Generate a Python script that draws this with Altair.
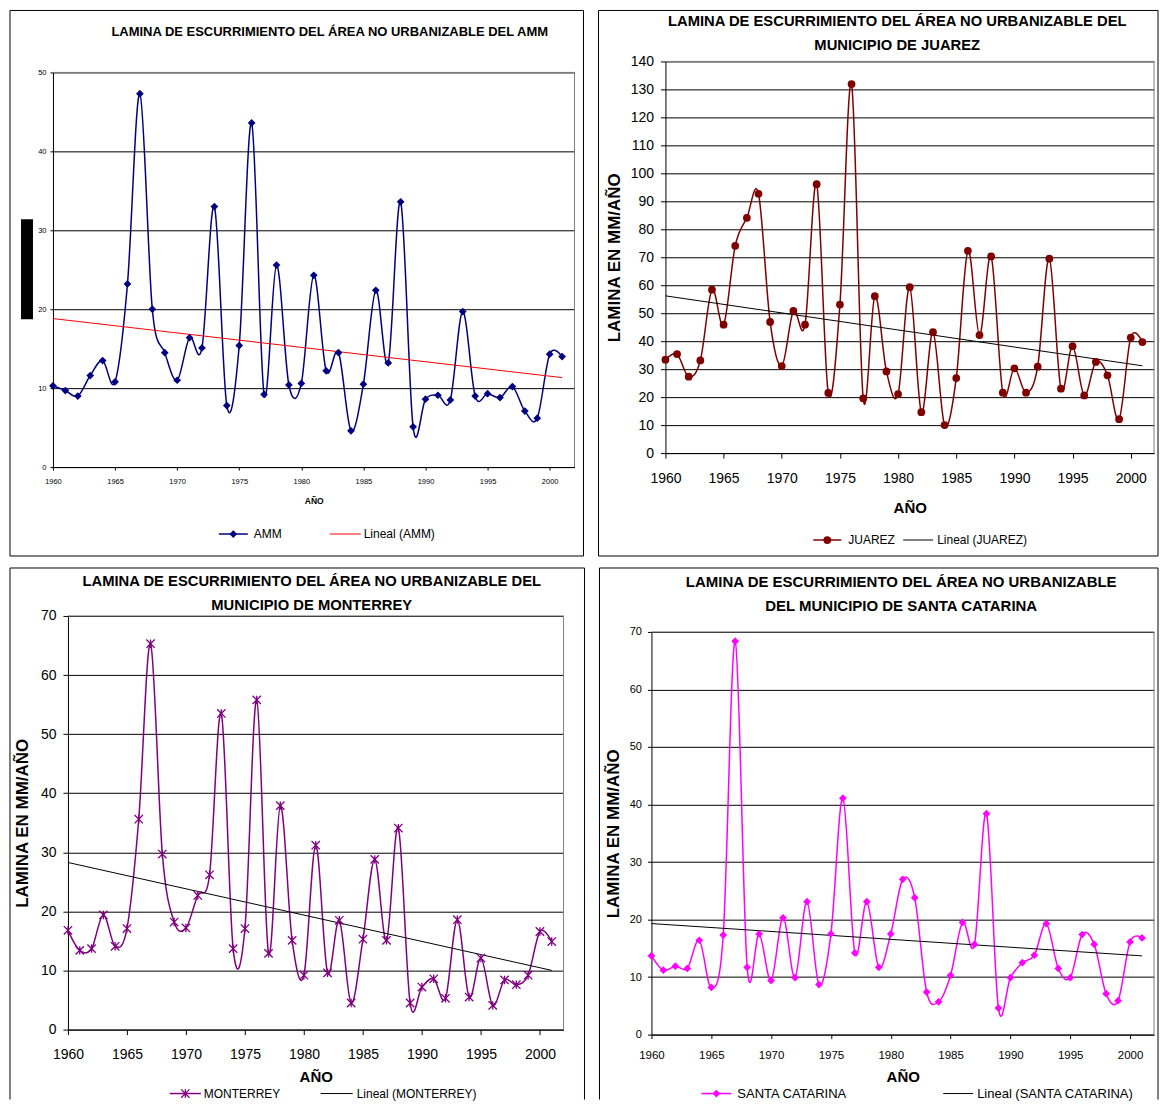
import altair as alt
import pandas as pd

years = list(range(1960, 2002))
year_ticks = [1960, 1965, 1970, 1975, 1980, 1985, 1990, 1995, 2000]

amm = [10.3, 9.7, 9.0, 11.6, 13.5, 10.8, 23.2, 47.3, 20.0, 14.5,
       11.0, 16.4, 15.1, 33.0, 7.8, 15.4, 43.6, 9.2, 25.6, 10.4,
       10.6, 24.3, 12.2, 14.5, 4.6, 10.5, 22.4, 13.2, 33.6, 5.1,
       8.6, 9.1, 8.5, 19.7, 9.0, 9.3, 8.8, 10.2, 7.1, 6.2,
       14.3, 14.0]
juarez = [33.4, 35.4, 27.3, 33.1, 58.4, 45.9, 74.1, 84.1, 92.7, 46.9,
          31.1, 50.8, 45.9, 96.1, 21.5, 53.1, 131.9, 19.6, 56.1, 29.2,
          21.1, 59.3, 14.6, 43.2, 10.0, 26.8, 72.3, 42.2, 70.3, 21.6,
          30.3, 21.6, 30.9, 69.5, 23.0, 38.2, 20.6, 32.6, 27.8, 12.1,
          41.3, 39.7]
monterrey = [16.8, 13.4, 13.7, 19.4, 14.1, 17.1, 35.6, 65.3, 29.7, 18.2,
             17.2, 22.7, 26.2, 53.5, 13.7, 17.1, 55.8, 12.9, 37.9, 15.1,
             9.2, 31.2, 9.6, 18.5, 4.5, 15.3, 28.8, 15.1, 34.1, 4.5,
             7.2, 8.6, 5.3, 18.6, 5.5, 12.1, 4.1, 8.4, 7.6, 9.2,
             16.6, 14.9]
santa_catarina = [13.7, 11.2, 11.9, 11.5, 16.4, 8.2, 17.3, 68.4, 11.7, 17.5,
                  9.4, 20.3, 9.9, 23.1, 8.7, 17.5, 41.1, 14.2, 23.1, 11.7,
                  17.5, 27.0, 23.8, 7.4, 5.7, 10.3, 19.5, 15.7, 38.4, 4.6,
                  9.9, 12.5, 13.8, 19.3, 11.5, 9.9, 17.4, 15.7, 7.1, 5.9,
                  16.1, 16.8]

FONT = "Liberation Sans"
ONE = pd.DataFrame({"k": [0]})
STAR = "M-1,-1L1,1M-1,1L1,-1M0,-1L0,1"


def txt(x, y, s, size, bold=False, align="center"):
    return alt.Chart(ONE).mark_text(
        font=FONT, fontSize=size, fontWeight="bold" if bold else "normal",
        align=align, baseline="middle", color="black"
    ).encode(x=alt.value(x), y=alt.value(y), text=alt.value(s))


def hrule(x1, x2, y, color="black", width=1.0):
    return alt.Chart(ONE).mark_rule(color=color, strokeWidth=width).encode(
        x=alt.value(x1), x2=alt.value(x2), y=alt.value(y))


def vrule(x, y1, y2, color="black", width=1.0):
    return alt.Chart(ONE).mark_rule(color=color, strokeWidth=width).encode(
        x=alt.value(x), y=alt.value(y1), y2=alt.value(y2))


def point_mark(chart, shape, color, size):
    if shape == STAR:
        return chart.mark_point(shape=shape, size=size, color=color, filled=False,
                                strokeWidth=1.3, opacity=1)
    return chart.mark_point(shape=shape, size=size, color=color, filled=True, opacity=1)


def spacer():
    return alt.Chart(ONE).mark_rect(opacity=0).encode(
        x=alt.value(0), x2=alt.value(1), y=alt.value(0), y2=alt.value(1)
    ).properties(width=1, height=1)


def panel(p):
    W, H = p["W"], p["H"]
    df = pd.DataFrame({"year": years, "value": p["values"]})
    xaxis = alt.Axis(values=year_ticks, format="d", grid=False, title="AÑO",
                     labelFontSize=p["xlab"], labelPadding=p["xpad"], labelBaseline="middle",
                     labelFlush=False, labelOverlap=False, tickSize=p["tick"],
                     titleFontSize=p["xtitle"], titleFontWeight="bold",
                     titleX=W / 2, titleY=p["xtitleY"], titleBaseline="middle",
                     titleAlign="center")
    ykw = dict(values=list(range(0, p["ymax"] + 1, p["ystep"])), grid=True,
               labelFontSize=p["ylab"], labelPadding=p["ypad"], labelFlush=False,
               labelOverlap=False, tickSize=p["tick"])
    if p["ytitle"]:
        ykw.update(title="LAMINA EN MM/AÑO", titleX=p["ytitleX"], titleY=H / 2,
                   titleAngle=270, titleAlign="center", titleBaseline="middle",
                   titleFontSize=17, titleFontWeight="bold")
    else:
        ykw.update(title=None)
    x = alt.X("year:Q", scale=alt.Scale(domain=[1960, 2002], nice=False, zero=False), axis=xaxis)
    y = alt.Y("value:Q", scale=alt.Scale(domain=[0, p["ymax"]], nice=False), axis=alt.Axis(**ykw))

    base = alt.Chart(df)
    line = base.mark_line(color=p["color"], strokeWidth=1.5, interpolate="cardinal").encode(x=x, y=y)
    trend = base.transform_regression("year", "value").mark_line(
        color=p["trend"], strokeWidth=1).encode(x=x, y=y)
    pts = point_mark(base, p["shape"], p["color"], p["msize"]).encode(x=x, y=y)

    # plot-area border (top and right)
    layers = [hrule(0, W, 0, "#808080"), vrule(W, 0, H, "#808080"), line, trend, pts]

    # titles
    for (ty, s) in p["titles"]:
        layers.append(txt(p["titleX"], ty, s, p["titlesize"], bold=True))

    # legend
    lg = p["legend"]
    ly = lg["y"]
    layers.append(hrule(lg["l1"][0], lg["l1"][1], ly, p["color"], 1.5))
    layers.append(point_mark(alt.Chart(ONE), p["shape"], p["color"], p["msize"]).encode(
        x=alt.value((lg["l1"][0] + lg["l1"][1]) / 2), y=alt.value(ly)))
    layers.append(txt(lg["t1"], ly, p["name"], lg["size"], align="left"))
    layers.append(hrule(lg["l2"][0], lg["l2"][1], ly, p["trend"], 1))
    layers.append(txt(lg["t2"], ly, "Lineal (" + p["name"] + ")", lg["size"], align="left"))

    # frame of the chart area
    L, T, R, B = p["frame"]
    layers.append(hrule(-L, W + R, -T))
    layers.append(vrule(-L, -T, H + B))
    layers.append(vrule(W + R, -T, H + B))
    if p["frame_bottom"]:
        layers.append(hrule(-L, W + R, H + B))

    for extra in p.get("extras", []):
        layers.append(extra)

    chart = alt.layer(*layers).properties(width=W, height=H)
    # wrapper so that the frame's top-left corner is the layout anchor
    return alt.vconcat(spacer(), alt.hconcat(spacer(), chart, spacing=0), spacing=0)


black_bar = alt.Chart(ONE).mark_rect(color="black").encode(
    x=alt.value(-32), x2=alt.value(-20), y=alt.value(147), y2=alt.value(247))

p1 = panel(dict(
    values=amm, name="AMM", color="#000080", trend="#FF0000", shape="diamond", msize=60,
    W=522, H=395, ymax=50, ystep=10, xlab=7.5, ylab=7.5, xpad=11, ypad=4, tick=3,
    xtitle=8.5, xtitleY=33, ytitle=False, ytitleX=0,
    titles=[(-40, "LAMINA DE ESCURRIMIENTO DEL ÁREA NO URBANIZABLE  DEL AMM")],
    titleX=277, titlesize=13,
    legend=dict(y=462, l1=(166, 195), t1=201, l2=(277, 308), t2=311, size=12),
    frame=(43, 62, 9, 89), frame_bottom=True, extras=[black_bar]))

p2 = panel(dict(
    values=juarez, name="JUAREZ", color="#800000", trend="#000000", shape="circle", msize=60,
    W=489, H=392, ymax=140, ystep=10, xlab=14, ylab=14, xpad=20, ypad=7, tick=5,
    xtitle=15, xtitleY=54, ytitle=True, ytitleX=-51,
    titles=[(-39, "LAMINA DE ESCURRIMIENTO DEL ÁREA NO URBANIZABLE DEL"),
            (-15, "MUNICIPIO DE JUAREZ")],
    titleX=232, titlesize=14.8,
    legend=dict(y=479, l1=(148, 176), t1=183, l2=(238, 268), t2=272, size=12),
    frame=(67, 51, 4, 103), frame_bottom=True))

p3 = panel(dict(
    values=monterrey, name="MONTERREY", color="#800080", trend="#000000", shape=STAR, msize=70,
    W=496, H=414, ymax=70, ystep=10, xlab=14, ylab=14, xpad=20, ypad=7, tick=5,
    xtitle=15, xtitleY=47, ytitle=True, ytitleX=-45,
    titles=[(-34, "LAMINA DE ESCURRIMIENTO DEL ÁREA NO URBANIZABLE DEL"),
            (-10, "MUNICIPIO DE MONTERREY")],
    titleX=244, titlesize=14.8,
    legend=dict(y=478, l1=(102, 133), t1=136, l2=(253, 285), t2=289, size=12),
    frame=(58, 48, 21, 70), frame_bottom=False))

p4 = panel(dict(
    values=santa_catarina, name="SANTA CATARINA", color="#FF00FF", trend="#000000", shape="diamond",
    msize=60, W=503, H=403, ymax=70, ystep=10, xlab=11.5, ylab=11, xpad=17, ypad=6, tick=4,
    xtitle=15, xtitleY=42, ytitle=True, ytitleX=-38,
    titles=[(-50, "LAMINA DE ESCURRIMIENTO  DEL ÁREA NO URBANIZABLE"),
            (-26, "DEL MUNICIPIO DE SANTA CATARINA")],
    titleX=250, titlesize=15,
    legend=dict(y=462, l1=(50, 80), t1=86, l2=(292, 322), t2=326, size=13),
    frame=(52, 64, 4, 65), frame_bottom=False))

row1 = alt.hconcat(p1, p2, spacing=12)
row2 = alt.hconcat(p3, p4, spacing=12)

chart = alt.vconcat(row1, row2, spacing=9).properties(
    padding=0, background="white"
).configure(font=FONT).configure_view(
    stroke="transparent", strokeWidth=0
).configure_axis(
    labelColor="black", labelFont=FONT, titleFont=FONT, titleColor="black",
    domainColor="black", domainWidth=1, tickColor="black", tickWidth=1,
    gridColor="black", gridWidth=1, gridOpacity=1
)

chart.save("out.html", embed_options={"renderer": "svg", "actions": False})
